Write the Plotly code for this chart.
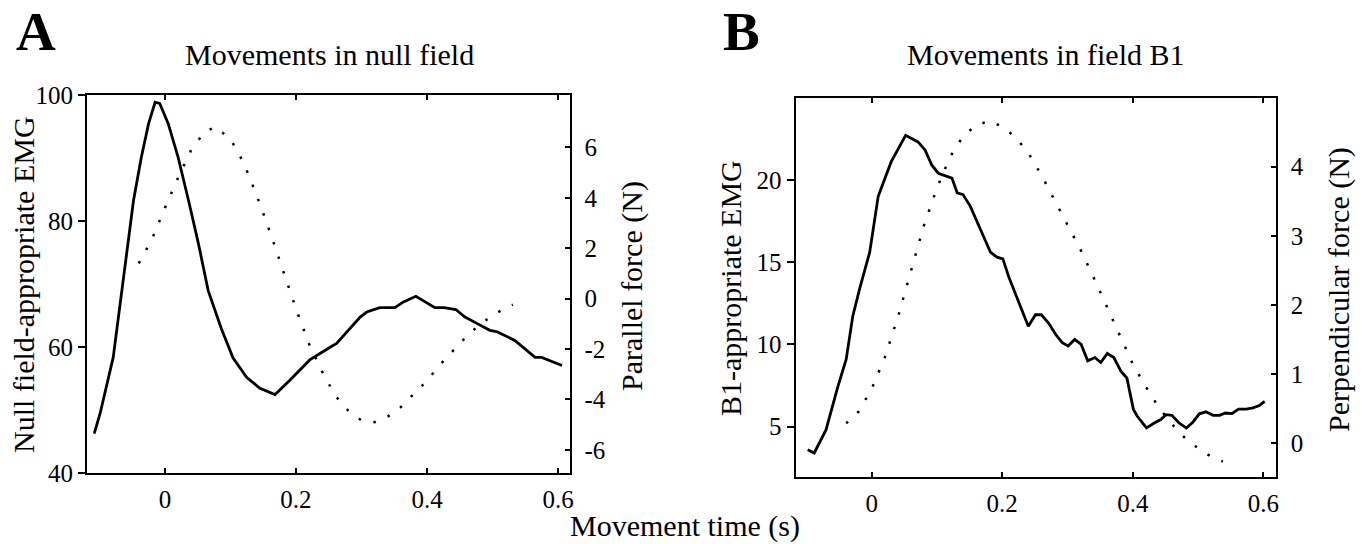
import plotly.graph_objects as go

# ---- Panel A: movements in the null field ----
t_null_emg = [-0.108, -0.099, -0.079, -0.066, -0.048, -0.036, -0.025, -0.015, -0.008,
              0.005, 0.020, 0.036, 0.051, 0.066, 0.086, 0.104, 0.125, 0.145, 0.168,
              0.191, 0.221, 0.252, 0.262, 0.298, 0.308, 0.328, 0.351, 0.364, 0.383,
              0.412, 0.426, 0.444, 0.458, 0.476, 0.496, 0.506, 0.519, 0.534, 0.565,
              0.575, 0.606]
emg_null = [46.3, 49.5, 58.4, 69.0, 83.3, 90.2, 95.5, 98.9, 98.7,
            95.5, 90.2, 83.3, 76.5, 69.0, 63.0, 58.3, 55.2, 53.5, 52.5,
            54.8, 58.0, 60.0, 60.6, 64.8, 65.6, 66.3, 66.3, 67.2, 68.1,
            66.3, 66.3, 66.0, 64.8, 63.8, 62.7, 62.5, 61.8, 61.1, 58.4,
            58.4, 57.1]

t_null_force = [-0.040, -0.020, 0.000, 0.020, 0.040, 0.060, 0.077, 0.100, 0.120,
                0.140, 0.160, 0.180, 0.200, 0.220, 0.240, 0.260, 0.280, 0.300,
                0.320, 0.340, 0.360, 0.380, 0.400, 0.420, 0.440, 0.460, 0.480,
                0.500, 0.520, 0.531]
force_parallel = [1.40, 2.35, 3.60, 4.80, 5.90, 6.60, 6.82, 6.33, 5.40,
                  4.10, 2.67, 1.15, -0.40, -1.80, -2.90, -3.85, -4.45, -4.83,
                  -4.90, -4.68, -4.30, -3.78, -3.25, -2.62, -2.05, -1.50, -1.04,
                  -0.66, -0.37, -0.24]

# ---- Panel B: movements in field B1 ----
t_b1_emg = [-0.098, -0.088, -0.070, -0.052, -0.039, -0.029, -0.019, -0.003, 0.010,
            0.030, 0.052, 0.071, 0.082, 0.092, 0.102, 0.117, 0.123, 0.131, 0.140,
            0.151, 0.164, 0.182, 0.192, 0.201, 0.210, 0.220, 0.233, 0.240, 0.251,
            0.260, 0.271, 0.282, 0.292, 0.301, 0.311, 0.321, 0.331, 0.342, 0.351,
            0.361, 0.371, 0.382, 0.391, 0.401, 0.407, 0.421, 0.433, 0.443, 0.451,
            0.460, 0.471, 0.482, 0.492, 0.502, 0.512, 0.523, 0.533, 0.542, 0.552,
            0.562, 0.574, 0.584, 0.594, 0.602]
emg_b1 = [3.6, 3.4, 4.8, 7.4, 9.1, 11.7, 13.3, 15.6, 19.0,
          21.1, 22.7, 22.3, 21.8, 20.9, 20.4, 20.2, 20.1, 19.2, 19.1,
          18.4, 17.2, 15.6, 15.3, 15.2, 14.1, 13.1, 11.9, 11.1, 11.8,
          11.8, 11.3, 10.6, 10.1, 9.9, 10.3, 10.0, 9.0, 9.2, 8.9,
          9.45, 9.2, 8.36, 7.96, 6.05, 5.63, 4.92, 5.22, 5.43, 5.73,
          5.69, 5.22, 4.92, 5.27, 5.78, 5.90, 5.69, 5.69, 5.83, 5.79,
          6.07, 6.07, 6.14, 6.28, 6.54]

t_b1_force = [-0.039, -0.020, 0.000, 0.020, 0.040, 0.060, 0.080, 0.100, 0.120,
              0.140, 0.160, 0.180, 0.200, 0.220, 0.240, 0.260, 0.280, 0.300,
              0.320, 0.340, 0.360, 0.380, 0.400, 0.420, 0.440, 0.460, 0.480,
              0.500, 0.520, 0.538]
force_perp = [0.29, 0.46, 0.79, 1.24, 1.82, 2.50, 3.15, 3.69, 4.14,
              4.44, 4.60, 4.66, 4.58, 4.43, 4.20, 3.88, 3.52, 3.17,
              2.80, 2.40, 1.99, 1.56, 1.15, 0.82, 0.52, 0.28, 0.08,
              -0.07, -0.19, -0.26]

# ---- tick labels ----
time_ticks = [0, 0.2, 0.4, 0.6]
time_labels = ["0", "0.2", "0.4", "0.6"]
null_emg_ticks = [40, 60, 80, 100]
parallel_ticks = [-6, -4, -2, 0, 2, 4, 6]
b1_emg_ticks = [5, 10, 15, 20]
perp_ticks = [0, 1, 2, 3, 4]

SERIF = "Liberation Serif, Times New Roman, serif"
W, H = 1365, 544

solid = dict(color="black", width=2.8)
dotted = dict(color="black", width=2.5, dash="2.5px,12.8px")

fig = go.Figure()
fig.add_trace(go.Scatter(x=t_null_emg, y=emg_null, mode="lines", line=solid,
                         xaxis="x", yaxis="y"))
fig.add_trace(go.Scatter(x=t_null_force, y=force_parallel, mode="lines", line=dotted,
                         xaxis="x", yaxis="y2"))
fig.add_trace(go.Scatter(x=t_b1_emg, y=emg_b1, mode="lines", line=solid,
                         xaxis="x2", yaxis="y3"))
fig.add_trace(go.Scatter(x=t_b1_force, y=force_perp, mode="lines", line=dotted,
                         xaxis="x2", yaxis="y4"))

tick_font = dict(family=SERIF, size=25, color="black")


def xax(domain, rng, anchor):
    return dict(domain=domain, range=rng, anchor=anchor, automargin=False,
                showgrid=False, zeroline=False,
                showline=True, linecolor="black", linewidth=2, mirror="ticks",
                ticks="inside", ticklen=5, tickwidth=1.6, tickcolor="black",
                tickvals=time_ticks, ticktext=time_labels, tickfont=tick_font,
                ticklabelstandoff=3)


def yleft(domain, rng, anchor, vals):
    return dict(domain=domain, range=rng, anchor=anchor, automargin=False,
                showgrid=False, zeroline=False,
                showline=True, linecolor="black", linewidth=2, mirror=False,
                ticks="outside", ticklen=7, tickwidth=1.6, tickcolor="black",
                tickvals=vals, ticktext=[str(v) for v in vals], tickfont=tick_font)


def yright(overlay, rng, anchor, vals):
    return dict(overlaying=overlay, side="right", range=rng, anchor=anchor,
                automargin=False, showgrid=False, zeroline=False, showline=True,
                linecolor="black", linewidth=2, ticks="inside", ticklen=5,
                tickwidth=1.6, tickcolor="black",
                tickvals=vals, ticktext=[str(v) for v in vals], tickfont=tick_font,
                ticklabelstandoff=8)


fig.update_layout(
    width=W, height=H,
    margin=dict(l=0, r=0, t=0, b=0, pad=0),
    paper_bgcolor="white", plot_bgcolor="white",
    showlegend=False, hovermode=False,
    font=dict(family=SERIF, color="black"),
    xaxis=xax([87 / W, 569.5 / W], [-0.119, 0.6175], "y"),
    yaxis=yleft([1 - 473.3 / H, 1 - 95.3 / H], [40, 100], "x", null_emg_ticks),
    yaxis2=yright("y", [-6.93, 8.07], "x", parallel_ticks),
    xaxis2=xax([795.5 / W, 1275.7 / W], [-0.1167, 0.619], "y3"),
    yaxis3=yleft([1 - 476.7 / H, 1 - 97.5 / H], [1.96, 25.0], "x2", b1_emg_ticks),
    yaxis4=yright("y3", [-0.48, 5.0], "x2", perp_ticks),
)


def label(text, x_px, y_px, size, angle=0, bold=False, anchor="middle"):
    fig.add_annotation(text=f"<b>{text}</b>" if bold else text,
                       x=x_px / W, y=1 - y_px / H, xref="paper", yref="paper",
                       xanchor="center", yanchor=anchor, showarrow=False,
                       borderpad=0, textangle=angle,
                       font=dict(family=SERIF, size=size, color="black"))


# panel letters hang from the top edge of the figure
label("A", 36, 0, 55, bold=True, anchor="top")
label("B", 741, 0, 55, bold=True, anchor="top")
label("Movements in null field", 329, 55, 30)
label("Movements in field B1", 1045, 55, 30)
label("Null field-appropriate EMG", 23, 285, 30, angle=-90)
label("Parallel force (N)", 632, 286, 30, angle=-90)
label("B1-appropriate EMG", 730, 288, 30, angle=-90)
label("Perpendicular force (N)", 1339, 290, 30, angle=-90)
label("Movement time (s)", 685, 526, 30)

fig.write_html("out.html")
